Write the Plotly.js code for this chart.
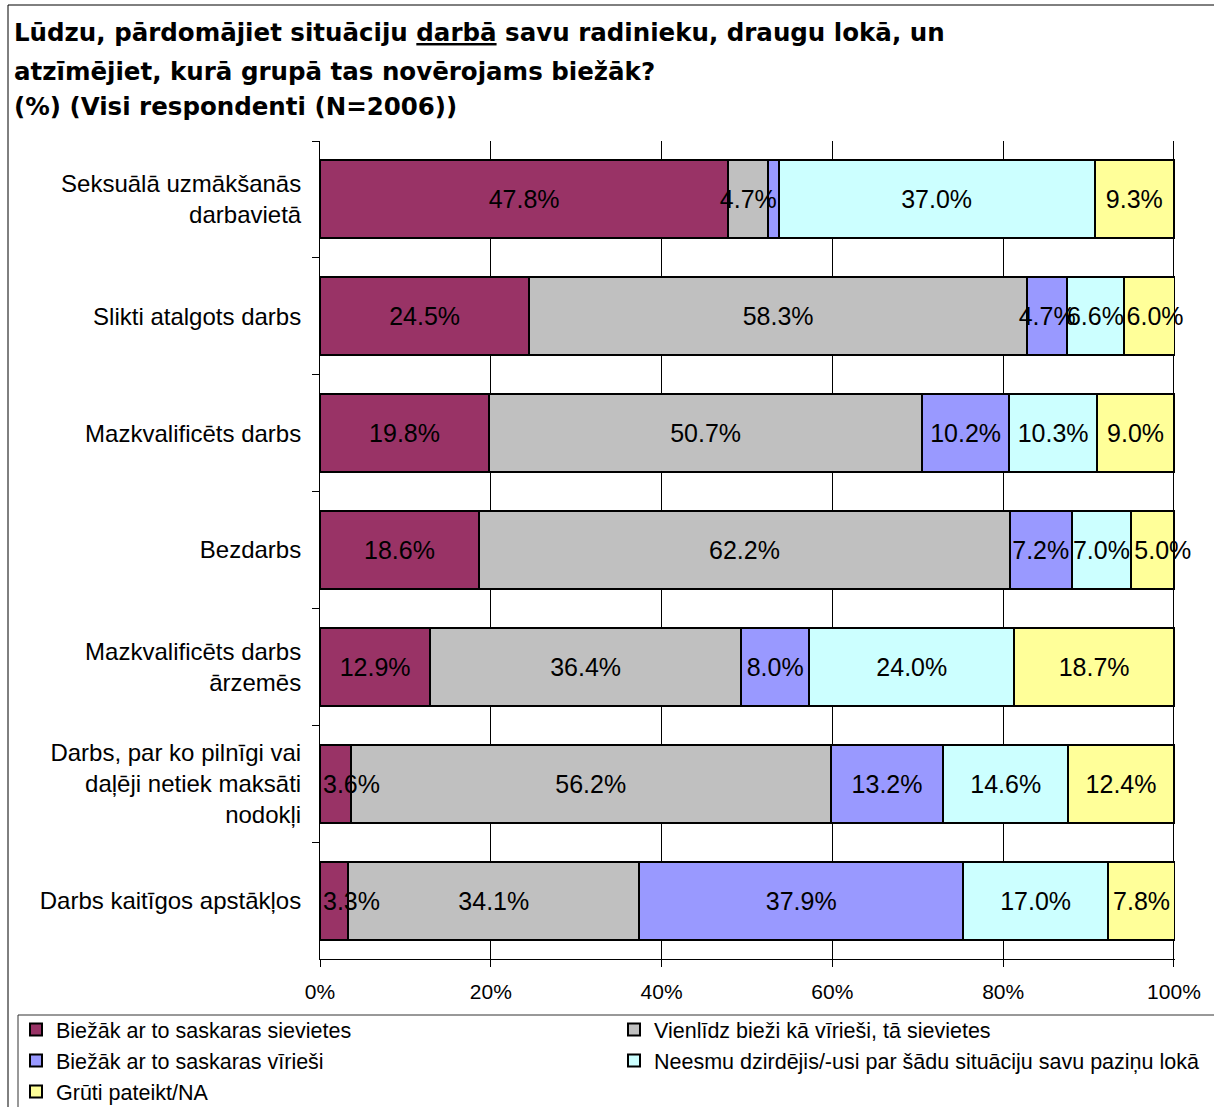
<!DOCTYPE html>
<html>
<head>
<meta charset="utf-8">
<script src="https://cdn.plot.ly/plotly-3.0.1.min.js"></script>
<style>
html,body{margin:0;padding:0;background:#fff;}
#chart{width:1214px;height:1107px;}
</style>
</head>
<body>
<div id="chart"></div>
<script>
var categories = [
  "Seksuālā uzmākšanās<br>darbavietā",
  "Slikti atalgots darbs",
  "Mazkvalificēts darbs",
  "Bezdarbs",
  "Mazkvalificēts darbs<br>ārzemēs",
  "Darbs, par ko pilnīgi vai<br>daļēji netiek maksāti<br>nodokļi",
  "Darbs kaitīgos apstākļos"
];
var seriesNames = [
  "Biežāk ar to saskaras sievietes",
  "Vienlīdz bieži kā vīrieši, tā sievietes",
  "Biežāk ar to saskaras vīrieši",
  "Neesmu dzirdējis/-usi par šādu situāciju savu paziņu lokā",
  "Grūti pateikt/NA"
];
var womenMore   = [47.8, 24.5, 19.8, 18.6, 12.9, 3.6, 3.3];
var equally     = [4.7, 58.3, 50.7, 62.2, 36.4, 56.2, 34.1];
var menMore     = [1.2, 4.7, 10.2, 7.2, 8.0, 13.2, 37.9];
var notHeard    = [37.0, 6.6, 10.3, 7.0, 24.0, 14.6, 17.0];
var hardToSay   = [9.3, 6.0, 9.0, 5.0, 18.7, 12.4, 7.8];
var xTickVals   = [0, 20, 40, 60, 80, 100];
var xTickLabels = ["0%", "20%", "40%", "60%", "80%", "100%"];

var seriesValues = [womenMore, equally, menMore, notHeard, hardToSay];
var colors = ["#993366", "#C0C0C0", "#9999FF", "#CCFFFF", "#FFFF99"];
var legendOf = ["legend", "legend2", "legend", "legend2", "legend"];

var font = "Arial, 'Liberation Sans', sans-serif";
var titleFont = "'DejaVu Sans', Arial, sans-serif";

// coloured bars
var traces = seriesValues.map(function (vals, i) {
  return {
    type: "bar",
    orientation: "h",
    name: seriesNames[i],
    legend: legendOf[i],
    y: categories,
    x: vals,
    marker: {color: colors[i], line: {color: "#000", width: 2}},
    hoverinfo: "name+x"
  };
});

// data labels: drawn by transparent stacked bars on an overlaying axis so that
// they sit on top of all segments (as in the original). Narrow outer segments
// get their label anchored at the segment start.
function labelOf(v) { return v < 2 ? "" : v.toFixed(1) + "%"; }
function textBar(vals, keep, anchor) {
  return {
    type: "bar", orientation: "h", xaxis: "x2", yaxis: "y",
    y: categories,
    x: vals.map(function (v) { return keep(v) ? v : null; }),
    text: vals.map(function (v) { return keep(v) ? labelOf(v) : ""; }),
    textposition: "inside",
    insidetextanchor: anchor,
    textangle: 0,
    constraintext: "none",
    cliponaxis: false,
    textfont: {family: font, size: 25, color: "#000"},
    marker: {color: "rgba(0,0,0,0)", line: {width: 0}},
    showlegend: false,
    hoverinfo: "skip"
  };
}
var narrow = function (v) { return v < 7; };
var wide = function (v) { return v >= 7; };
var all = function () { return true; };
seriesValues.forEach(function (vals, i) {
  if (i === 0 || i === seriesValues.length - 1) {
    traces.push(textBar(vals, wide, "middle"));
    traces.push(textBar(vals, narrow, "start"));
  } else {
    traces.push(textBar(vals, all, "middle"));
  }
});

// pixel helpers for paper coordinates
var L = 320, R = 39, T = 141, B = 148, W = 1214, H = 1107;
var pw = W - L - R, ph = H - T - B;
var xMax = 100.12;
function px(x) { return (x - L) / pw; }
function py(y) { return (H - B - y) / ph; }

var titleLines = [
  "<b>Lūdzu, pārdomājiet situāciju <span style=\"text-decoration:underline\">darbā</span> savu radinieku, draugu lokā, un</b>",
  "<b>atzīmējiet, kurā grupā tas novērojams biežāk?</b>",
  "<b>(%) (Visi respondenti (N=2006))</b>"
];
var titleY = [33, 71, 107];

var annotations = titleLines.map(function (t, i) {
  return {
    text: t, xref: "paper", yref: "paper",
    x: px(12), y: py(titleY[i]), xanchor: "left", yanchor: "middle",
    showarrow: false, align: "left",
    font: {family: titleFont, size: 24.5, color: "#000"}
  };
});

function legendAt(xpx, ew) {
  return {
    orientation: "h",
    xref: "container", yref: "container",
    x: xpx / W, y: 1 - 1009 / H, xanchor: "left", yanchor: "top",
    borderwidth: 0, bgcolor: "rgba(0,0,0,0)",
    entrywidth: ew, entrywidthmode: "pixels",
    traceorder: "normal",
    font: {family: font, size: 21.5, color: "#000"}
  };
}

var layout = {
  width: W, height: H,
  margin: {l: L, r: R, t: T, b: B, pad: 0},
  paper_bgcolor: "#fff",
  plot_bgcolor: "#fff",
  barmode: "stack",
  bargap: 0.333,
  showlegend: true,
  font: {family: font, size: 20, color: "#000"},
  xaxis: {
    range: [0, xMax],
    tickvals: xTickVals,
    ticktext: xTickLabels,
    showgrid: true, gridcolor: "#000", gridwidth: 1,
    zeroline: false,
    showline: true, linecolor: "#000", linewidth: 1,
    ticks: "outside", ticklen: 7, tickcolor: "#000",
    ticklabelstandoff: 7,
    tickfont: {family: font, size: 21, color: "#000"},
    fixedrange: true
  },
  xaxis2: {
    overlaying: "x",
    range: [0, xMax],
    visible: false,
    fixedrange: true
  },
  yaxis: {
    autorange: "reversed",
    type: "category",
    showline: true, linecolor: "#000", linewidth: 1,
    ticks: "outside", ticklen: 7, tickcolor: "#000",
    tickson: "boundaries",
    showgrid: false,
    ticklabelstandoff: 13,
    tickfont: {family: font, size: 24, color: "#000"},
    fixedrange: true
  },
  legend: legendAt(16, 450),
  legend2: legendAt(614, 570),
  annotations: annotations,
  shapes: [{
    type: "rect", xref: "paper", yref: "paper",
    x0: px(8), x1: px(1240), y0: py(1130), y1: py(5),
    line: {color: "#000", width: 1}, fillcolor: "rgba(0,0,0,0)", layer: "below"
  }, {
    type: "rect", xref: "paper", yref: "paper",
    x0: px(18), x1: px(1240), y0: py(1130), y1: py(1015),
    line: {color: "#333", width: 1}, fillcolor: "rgba(0,0,0,0)", layer: "below"
  }]
};

Plotly.newPlot("chart", traces, layout, {displayModeBar: false, staticPlot: true});
</script>
</body>
</html>
